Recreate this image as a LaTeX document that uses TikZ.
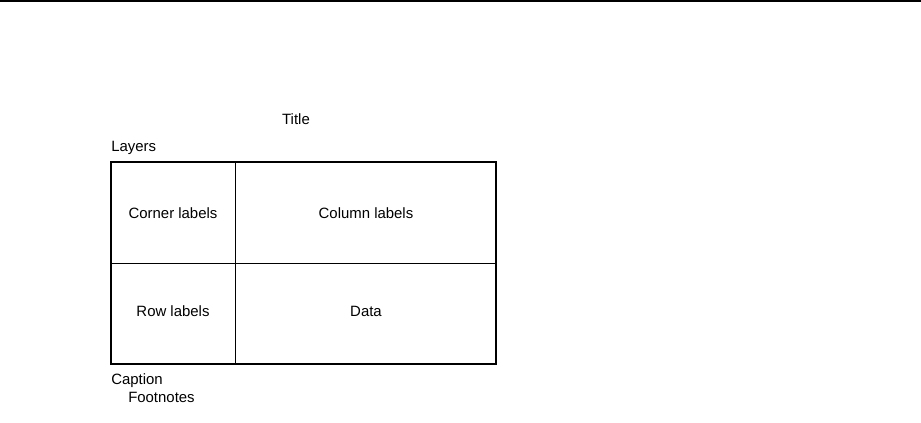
\documentclass[tikz,border=0pt]{standalone}
\usepackage{fontspec}
\setmainfont{Liberation Sans}
\begin{document}
\begin{tikzpicture}[x=0.75pt,y=-0.75pt,font=\fontsize{11.2}{13}\selectfont,
  lbl/.style={inner sep=0pt}]
\useasboundingbox(0,0)rectangle(921,423);
\draw[line width=1.2pt](0,1)--(921,1);
\draw[line width=0.8pt](111,162)rectangle(496,364);
\draw[line width=0.6pt](235,162)--(235,364);
\draw[line width=0.6pt](111,263)--(496,263);
\node[lbl](title)at(296,119){Title};
\node[lbl,anchor=west](layers)at(111,148){Layers};
\foreach \x/\y/\name/\txt in {173/213/corner/Corner labels,366/213/column/Column labels,
  173/311/row/Row labels,366/311/data/Data}
{
    \node[lbl](\name)at(\x,\y){\txt};
}
\node[lbl,anchor=west](caption)at(111,381){Caption};
\node[lbl,anchor=west](foot)at(128,397){Footnotes};
\end{tikzpicture}
\end{document}
